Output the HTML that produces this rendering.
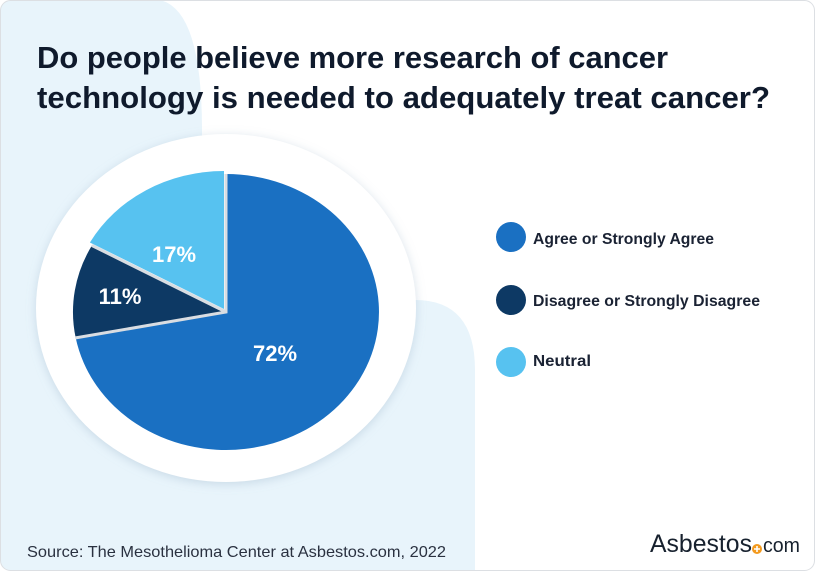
<!DOCTYPE html>
<html><head><meta charset="utf-8"><style>
html,body{margin:0;padding:0;background:#fff;}
body{width:815px;height:571px;overflow:hidden;font-family:"Liberation Sans",sans-serif;}
</style></head><body>
<svg width="815" height="571" viewBox="0 0 815 571" xmlns="http://www.w3.org/2000/svg" style="display:block">
<defs>
<filter id="sh" x="-20%" y="-20%" width="140%" height="140%"><feDropShadow dx="0" dy="2" stdDeviation="5" flood-color="#8aa6bf" flood-opacity="0.35"/></filter>
<clipPath id="card"><rect x="0.5" y="0.5" width="814" height="570" rx="10"/></clipPath>
</defs>
<g clip-path="url(#card)">
<rect width="815" height="571" fill="#fff"/>
<path d="M0,0 H160 Q202,10 202,130 V300 H415 Q475,300 475,370 V571 H0 Z" fill="#e8f4fb"/>
</g>
<rect x="0.5" y="0.5" width="814" height="570" rx="10" fill="none" stroke="#dcdfe3"/>
<text x="37" y="68" font-size="31" font-weight="bold" fill="#0f1a2c" textLength="631" lengthAdjust="spacingAndGlyphs">Do people believe more research of cancer</text>
<text x="37" y="108" font-size="31" font-weight="bold" fill="#0f1a2c" textLength="733" lengthAdjust="spacingAndGlyphs">technology is needed to adequately treat cancer?</text>
<ellipse cx="226" cy="308" rx="190" ry="174" fill="#fff" filter="url(#sh)"/>
<path d="M226,312 L226,174 A153,138 0 1 1 75.7,337.9 Z" fill="#1a70c2"/>
<path d="M226,312 L75.7,337.9 A153,138 0 0 1 91.9,245.5 Z" fill="#0d3964"/>
<g transform="translate(-2,-3)"><path d="M226,312 L91.9,245.5 A153,138 0 0 1 226,174 Z" fill="#57c2f0"/></g>
<path d="M75.7,337.9 L226,312 L226,174 M91.9,245.5 L226,312" stroke="#d9dde2" stroke-width="3" fill="none"/>
<g font-size="22" font-weight="bold" fill="#fff" text-anchor="middle">
<text x="174" y="262">17%</text>
<text x="120" y="304">11%</text>
<text x="275" y="361">72%</text>
</g>
<circle cx="511" cy="237" r="15" fill="#1a70c2"/>
<circle cx="511" cy="300" r="15" fill="#0d3964"/>
<circle cx="511" cy="362" r="15" fill="#57c2f0"/>
<g font-size="16" font-weight="bold" fill="#1a2233">
<text x="533" y="244" textLength="181" lengthAdjust="spacingAndGlyphs">Agree or Strongly Agree</text>
<text x="533" y="306" textLength="227" lengthAdjust="spacingAndGlyphs">Disagree or Strongly Disagree</text>
<text x="533" y="366" textLength="58" lengthAdjust="spacingAndGlyphs">Neutral</text>
</g>
<text x="27" y="557" font-size="16" fill="#2a3140" textLength="419" lengthAdjust="spacingAndGlyphs">Source: The Mesothelioma Center at Asbestos.com, 2022</text>
<text x="650" y="552" font-size="25" fill="#17212e" textLength="102" lengthAdjust="spacingAndGlyphs">Asbestos</text>
<circle cx="757" cy="549" r="5" fill="#f39a1e"/>
<path d="M757,546 V552 M754,549 H760" stroke="#fff" stroke-width="1.6"/>
<text x="763" y="552" font-size="20" fill="#17212e" textLength="37" lengthAdjust="spacingAndGlyphs">com</text>
</svg>
</body></html>
